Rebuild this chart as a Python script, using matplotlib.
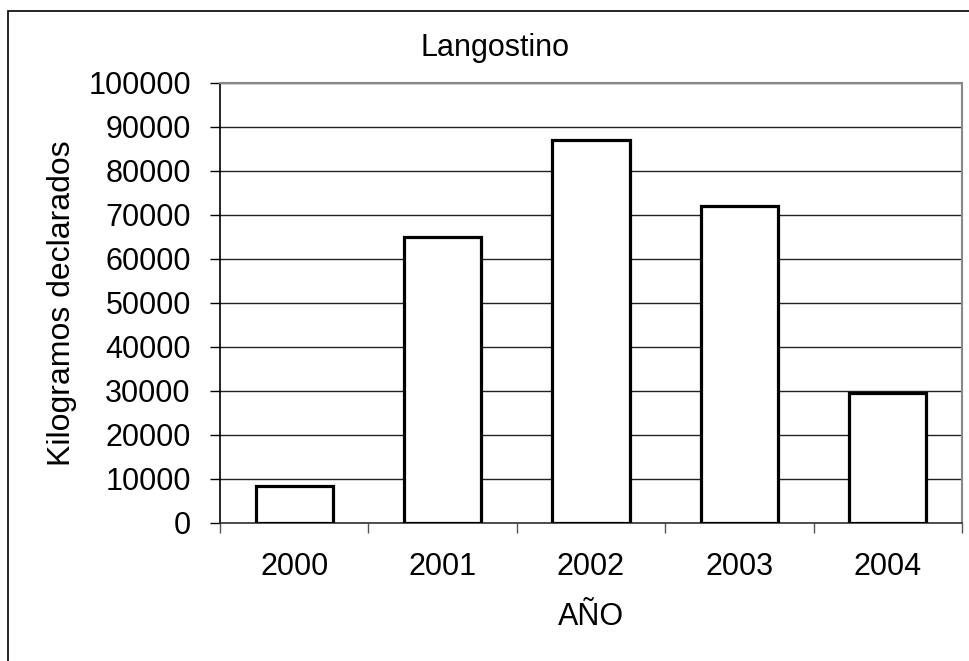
import matplotlib.pyplot as plt
from matplotlib.patches import Rectangle

years = ['2000', '2001', '2002', '2003', '2004']
kilos = [8500, 65000, 87000, 72000, 29500]
yticks = list(range(0, 100001, 10000))

plt.rcParams['font.family'] = ['Liberation Sans', 'DejaVu Sans']
plt.rcParams['font.size'] = 22

fig = plt.figure(figsize=(9.69, 6.61), dpi=100)
ax = fig.add_axes([220/969, 1 - 523/661, 742/969, 440/661])

pos = list(range(len(years)))
ax.bar(pos, kilos, width=0.52, color='white', edgecolor='black', linewidth=2.3, zorder=3)

ax.set_xlim(-0.5, len(years) - 0.5)
ax.set_ylim(0, 100000)
ax.set_yticks(yticks)
ax.yaxis.grid(True, color='#222222', linewidth=1.0, zorder=0)
ax.tick_params(axis='y', length=7, width=1, pad=14, direction='out')

# ticks on the category borders, labels in the middle
ax.set_xticks([p - 0.5 for p in pos] + [len(years) - 0.5])
ax.set_xticklabels([])
ax.set_xticks(pos, minor=True)
ax.set_xticklabels(years, minor=True)
ax.tick_params(axis='x', which='major', length=7, width=1, color='#555555')
ax.tick_params(axis='x', which='minor', length=0, pad=21)

for s in ['top', 'right']:
    ax.spines[s].set_color('#888888')
    ax.spines[s].set_linewidth(1.5)
ax.spines['left'].set_linewidth(1.2)
ax.spines['bottom'].set_color('#333333')
ax.spines['bottom'].set_linewidth(1.2)

ax.set_xlabel('AÑO', labelpad=14)
ax.set_ylabel('Kilogramos declarados', fontsize=23, labelpad=8)
fig.text(495/969, 1 - 48/661, 'Langostino', ha='center', va='center')

# outer chart border
fig.patches.append(Rectangle((8/969, -0.1), 1.2, 1.1 - 11/661, transform=fig.transFigure,
                             fill=False, edgecolor='black', linewidth=1.2))

plt.savefig('out.png', dpi=100)
